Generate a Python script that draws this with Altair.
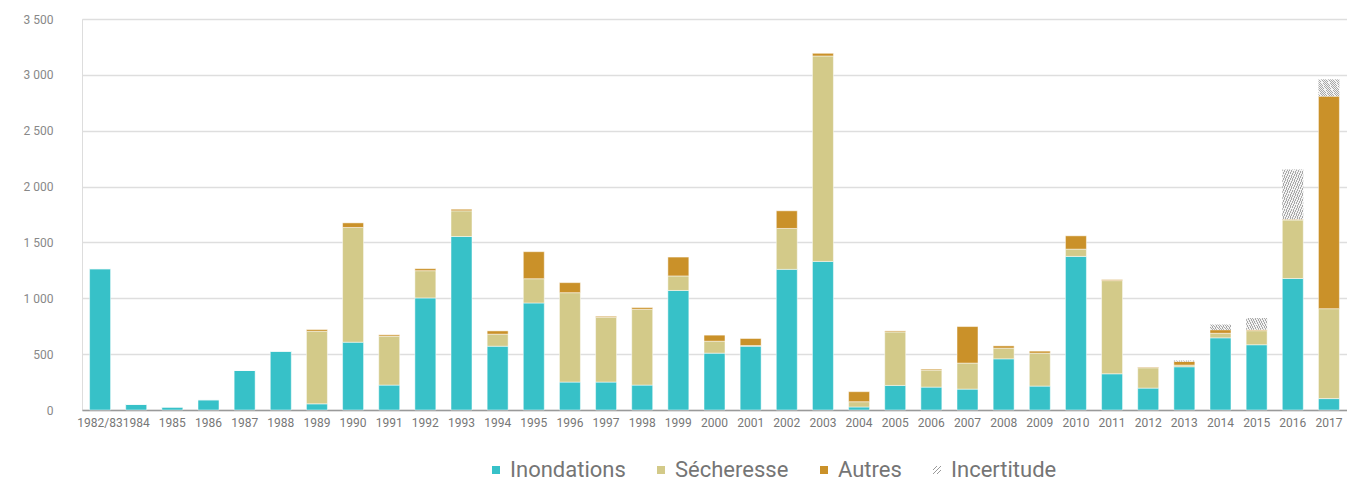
import altair as alt
import pandas as pd

years = ["1982/83", "1984", "1985", "1986", "1987", "1988", "1989", "1990", "1991",
         "1992", "1993", "1994", "1995", "1996", "1997", "1998", "1999", "2000",
         "2001", "2002", "2003", "2004", "2005", "2006", "2007", "2008", "2009",
         "2010", "2011", "2012", "2013", "2014", "2015", "2016", "2017"]

inondations = [1265, 51, 27, 92, 354, 527, 55, 607, 223, 1003, 1553, 571, 958, 250, 250,
               223, 1070, 509, 571, 1259, 1330, 27, 220, 205, 187, 458, 214, 1375, 324,
               196, 387, 646, 584, 1177, 102]
secheresse = [0, 0, 0, 0, 0, 0, 650, 1027, 438, 244, 230, 108, 217, 800, 580, 679, 130,
              107, 6, 366, 1839, 47, 479, 152, 233, 96, 295, 65, 834, 182, 15, 41, 126,
              524, 805]
autres = [0, 0, 0, 0, 0, 0, 15, 41, 12, 18, 14, 29, 242, 90, 9, 15, 169, 54, 63, 158, 24,
          90, 9, 9, 327, 20, 18, 119, 9, 6, 32, 30, 9, 6, 1901]
incertitude = [0, 0, 0, 0, 0, 0, 0, 0, 0, 0, 0, 0, 0, 0, 0, 0, 0, 0, 0, 0, 0, 0, 0, 0, 0,
               0, 0, 0, 0, 0, 9, 48, 104, 446, 152]

categories = ["Inondations", "Sécheresse", "Autres", "Incertitude"]
colors = ["#37C1C8", "#D3CA89", "#CA9129", "transparent"]
y_ticks = [0, 500, 1000, 1500, 2000, 2500, 3000, 3500]

rows = []
for i, yr in enumerate(years):
    for k, (cat, ser) in enumerate(zip(categories, [inondations, secheresse, autres, incertitude])):
        rows.append({"year": yr, "cat": cat, "value": ser[i], "order": k})
df = pd.DataFrame(rows)

gray, light = "#a8a8a8", "#f3f3f3"
n = 18
stops = []
for k in range(n):
    a, b, c = k / n, (k + 0.42) / n, (k + 1) / n
    stops += [{"offset": a, "color": gray}, {"offset": b, "color": gray},
              {"offset": b, "color": light}, {"offset": c, "color": light}]
hatch_fill = {"gradient": "linear", "x1": 0, "y1": 0, "x2": 1, "y2": 1, "stops": stops}

x_enc = alt.X("year:N", sort=years,
              scale=alt.Scale(paddingInner=0.42, paddingOuter=0.21),
              axis=alt.Axis(title=None, labelAngle=0, ticks=False, tickSize=0, domain=True,
                            domainColor="#9a9a9a", domainWidth=1.5, labelColor="#777777",
                            labelFont="Roboto", labelFontSize=12, labelPadding=7,
                            labelOverlap=False, grid=False))
y_axis = alt.Axis(title=None, domain=False, ticks=False, tickSize=0, grid=True,
                  gridColor="#dedede", gridWidth=1.5, values=y_ticks,
                  labelExpr="replace(format(datum.value, ',d'), ',', ' ')",
                  labelColor="#888888", labelFont="Roboto", labelFontSize=12, labelPadding=29)

base = alt.Chart(df).transform_stack(
    stack="value", groupby=["year"], as_=["y0", "y1"], sort=[alt.SortField("order")]
)

hatch_path = "M-1,0L0,-1M-1,1L1,-1M0,1L1,0"

bars = base.transform_filter("datum.cat != 'Incertitude'").mark_bar(
    stroke="white", strokeWidth=0.8, strokeOpacity=0.6
).encode(
    x=x_enc,
    y=alt.Y("y0:Q", scale=alt.Scale(domain=[0, 3500], nice=False), axis=y_axis),
    y2="y1:Q",
    color=alt.Color("cat:N", scale=alt.Scale(domain=categories, range=colors),
                    legend=alt.Legend(
                        orient="none", legendX=403, legendY=440, direction="horizontal",
                        title=None, symbolSize=64,
                        symbolType={"expr": f"datum.value == 'Incertitude' ? '{hatch_path}' : 'square'"},
                        symbolStrokeColor={"expr": "datum.value == 'Incertitude' ? '#9a9a9a' : 'transparent'"},
                        symbolStrokeWidth=1,
                        labelFontSize=22, labelFont="Roboto", labelColor="#757575",
                        labelOffset=3, columnPadding=24)),
)

hatch = base.transform_filter("datum.cat == 'Incertitude' && datum.value > 0").mark_bar(
    fill=hatch_fill
).encode(
    x=x_enc,
    y=alt.Y("y0:Q"),
    y2="y1:Q",
)

chart = alt.layer(bars, hatch).properties(
    width=1265, height=391,
    autosize=alt.AutoSizeParams(type="none"),
    padding={"left": 74, "top": 11, "right": 0, "bottom": 69},
).configure_view(stroke=None).configure(background="white")

chart.save("out.html", embed_options={"renderer": "svg", "actions": False})
